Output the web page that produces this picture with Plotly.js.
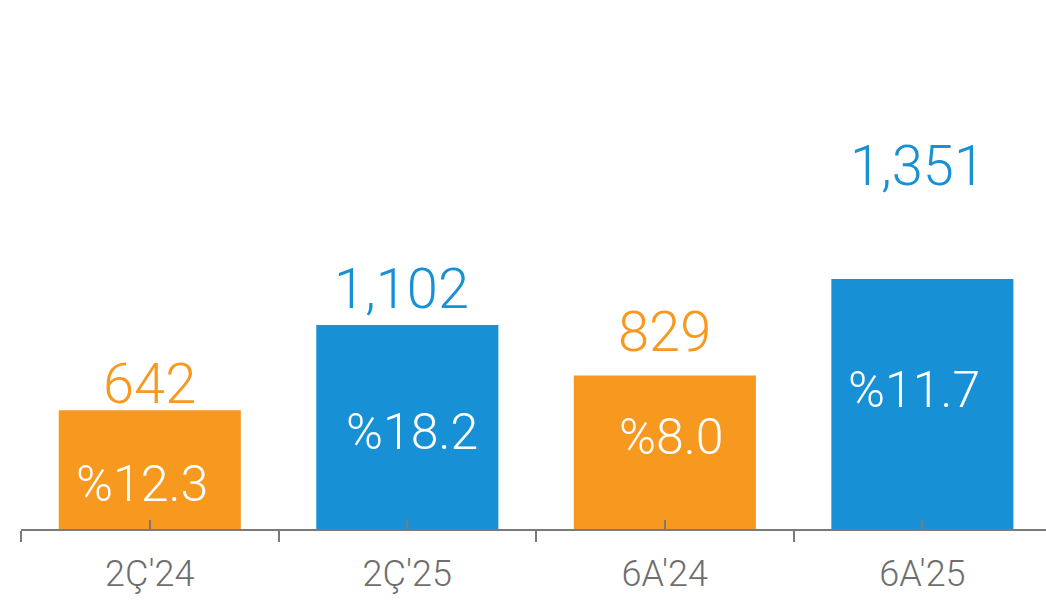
<!DOCTYPE html>
<html>
<head>
<meta charset="utf-8">
<script src="https://cdn.plot.ly/plotly-3.0.1.min.js"></script>
<style>
  html, body { margin: 0; padding: 0; background: #fff; }
  #chart { width: 1046px; height: 600px; }
</style>
</head>
<body>
<div id="chart"></div>
<script>
// Data
const categories = ['2Ç′24', '2Ç′25', '6A′24', '6A′25'];
const values = [642, 1102, 829, 1351];
const valueLabels = ['642', '1,102', '829', '1,351'];
const shareLabels = ['%12.3', '%18.2', '%8.0', '%11.7'];

// Styling / label placement (pixels)
const orange = '#F7981F';
const blue = '#1790D5';
const barColors = [orange, blue, orange, blue];
const valueShift = [26, 36, 44, 113];     // label centre above bar top
const valueXShift = [0, -6, 0, -5];
const shareShift = [45, 97, 92, 139];     // label centre above baseline
const shareXShift = [-8, 5, 6, -8];

const FONT = 'Roboto, "Open Sans", sans-serif';

const trace = {
    type: 'bar',
    x: categories,
    y: values,
    marker: { color: barColors },
    hoverinfo: 'x+y',
    showlegend: false
};

// transparent copy on the overlay axis, only so its centre ticks get drawn
const tickTrace = {
    type: 'bar',
    x: categories,
    y: values,
    xaxis: 'x2',
    marker: { color: 'rgba(0,0,0,0)' },
    hoverinfo: 'skip',
    showlegend: false
};

const annotations = [];
categories.forEach((cat, i) => {
    // value above the bar
    annotations.push({
        x: cat, y: values[i], xref: 'x', yref: 'y',
        text: valueLabels[i], showarrow: false,
        yanchor: 'middle', xanchor: 'center',
        yshift: valueShift[i], xshift: valueXShift[i],
        font: { family: FONT, size: 56, weight: 300, color: barColors[i] }
    });
    // share inside the bar
    annotations.push({
        x: cat, y: 0, xref: 'x', yref: 'y',
        text: shareLabels[i], showarrow: false,
        yanchor: 'middle', xanchor: 'center',
        yshift: shareShift[i], xshift: shareXShift[i],
        font: { family: FONT, size: 50, weight: 300, color: '#ffffff' }
    });
});

const layout = {
    width: 1046,
    height: 600,
    margin: { l: 21, r: 0, t: 0, b: 71 },
    paper_bgcolor: '#ffffff',
    plot_bgcolor: '#ffffff',
    bargap: 0.293,
    xaxis: {
        type: 'category',
        range: [-0.5, 3.48],
        showline: true,
        linecolor: '#7a7a7a',
        linewidth: 2,
        ticks: 'outside',
        tickson: 'boundaries',
        ticklen: 11,
        tickwidth: 2,
        tickcolor: '#7a7a7a',
        showgrid: false,
        zeroline: false,
        ticklabelstandoff: 12,
        tickfont: { family: FONT, size: 36, weight: 300, color: '#6e6e6e' }
    },
    // overlay axis: short inward ticks at the bar centres
    xaxis2: {
        overlaying: 'x',
        anchor: 'y',
        type: 'category',
        range: [-0.5, 3.48],
        ticks: 'inside',
        tickson: 'labels',
        ticklen: 9,
        tickwidth: 2,
        tickcolor: '#7a7a7a',
        showticklabels: false,
        showline: false,
        showgrid: false,
        zeroline: false
    },
    yaxis: {
        range: [0, 2859],
        visible: false,
        showgrid: false,
        zeroline: false
    },
    annotations: annotations
};

Plotly.newPlot('chart', [trace, tickTrace], layout, { displayModeBar: false, staticPlot: true });
</script>
</body>
</html>
